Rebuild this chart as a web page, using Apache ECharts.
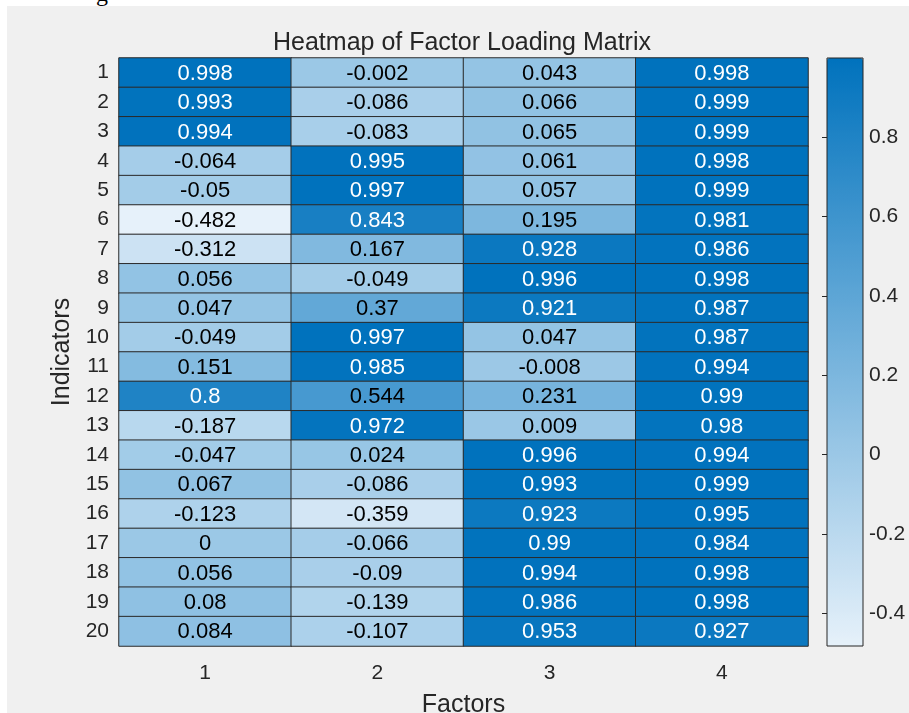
<!DOCTYPE html>
<html>
<head>
<meta charset="utf-8">
<script src="https://cdn.jsdelivr.net/npm/echarts@6/dist/echarts.min.js"></script>
<style>
html,body{margin:0;padding:0;background:#ffffff;width:909px;height:713px;overflow:hidden;position:relative;}
#frag{position:absolute;left:96px;top:-19px;font-family:'Liberation Serif',serif;font-size:24px;color:#000;line-height:24px;}
#chart{position:absolute;left:7px;top:6px;width:902px;height:707px;background:#f0f0f0;}
</style>
</head>
<body>
<div id="frag">g</div>
<div id="chart"></div>
<script>
// ---- data ----
var factors = ['1', '2', '3', '4'];
var indicators = ['1','2','3','4','5','6','7','8','9','10','11','12','13','14','15','16','17','18','19','20'];
var factor1 = [0.998, 0.993, 0.994, -0.064, -0.05, -0.482, -0.312, 0.056, 0.047, -0.049, 0.151, 0.8, -0.187, -0.047, 0.067, -0.123, 0, 0.056, 0.08, 0.084];
var factor2 = [-0.002, -0.086, -0.083, 0.995, 0.997, 0.843, 0.167, -0.049, 0.37, 0.997, 0.985, 0.544, 0.972, 0.024, -0.086, -0.359, -0.066, -0.09, -0.139, -0.107];
var factor3 = [0.043, 0.066, 0.065, 0.061, 0.057, 0.195, 0.928, 0.996, 0.921, 0.047, -0.008, 0.231, 0.009, 0.996, 0.993, 0.923, 0.99, 0.994, 0.986, 0.953];
var factor4 = [0.998, 0.999, 0.999, 0.998, 0.999, 0.981, 0.986, 0.998, 0.987, 0.987, 0.994, 0.99, 0.98, 0.994, 0.999, 0.995, 0.984, 0.998, 0.998, 0.927];
var colorbarTicks = [-0.4, -0.2, 0, 0.2, 0.4, 0.6, 0.8];

var columns = [factor1, factor2, factor3, factor4];
var all = [].concat(factor1, factor2, factor3, factor4);
var vmin = Math.min.apply(null, all);
var vmax = Math.max.apply(null, all);

var data = [];
columns.forEach(function (col, ci) {
  col.forEach(function (v, ri) {
    data.push({
      value: [ci, ri, v],
      label: { color: v > 0.7 ? '#ffffff' : '#000000' }
    });
  });
});

var FONT = "'Liberation Sans', Arial, Helvetica, sans-serif";
var TXT = '#262626';

var chart = echarts.init(document.getElementById('chart'), null, { renderer: 'canvas' });
chart.setOption({
  backgroundColor: '#f0f0f0',
  animation: false,
  textStyle: { fontFamily: FONT },
  title: {
    text: 'Heatmap of Factor Loading Matrix',
    left: 266, top: 25, padding: 0,
    textStyle: { fontFamily: FONT, fontSize: 25, fontWeight: 'normal', color: TXT }
  },
  grid: [
    { left: 112, top: 52, width: 689, height: 588, containLabel: false, outerBoundsMode: 'none' },
    { left: 820, top: 52, width: 36, height: 588, show: true, borderColor: '#262626', borderWidth: 1, backgroundColor: 'transparent', z: 10, outerBoundsMode: 'none' }
  ],
  xAxis: [
    {
      type: 'category', gridIndex: 0, data: factors,
      axisLine: { show: false }, axisTick: { show: false }, splitLine: { show: false },
      axisLabel: { fontFamily: FONT, fontSize: 21, color: TXT, margin: 17 },
      name: 'Factors', nameLocation: 'middle', nameGap: 47,
      nameTextStyle: { fontFamily: FONT, fontSize: 25, color: TXT }
    },
    { type: 'value', gridIndex: 1, show: false, min: 0, max: 1 }
  ],
  yAxis: [
    {
      type: 'category', gridIndex: 0, data: indicators, inverse: true,
      axisLine: { show: false }, axisTick: { show: false }, splitLine: { show: false },
      axisLabel: { fontFamily: FONT, fontSize: 21, color: TXT, margin: 10 },
      name: 'Indicators', nameLocation: 'middle', nameGap: 44, nameRotate: 90,
      nameTextStyle: { fontFamily: FONT, fontSize: 25, color: TXT }
    },
    {
      type: 'value', gridIndex: 1, position: 'right', min: vmin, max: vmax, z: 10,
      axisLine: { show: false },
      splitLine: { show: false },
      axisTick: { show: true, inside: true, length: 5, lineStyle: { color: '#262626' }, customValues: colorbarTicks },
      axisLabel: { fontFamily: FONT, fontSize: 21, color: TXT, margin: 6, customValues: colorbarTicks,
        formatter: function (v) { return String(Math.round(v * 10) / 10); } }
    }
  ],
  visualMap: {
    type: 'continuous', min: vmin, max: vmax, calculable: false, show: true,
    orient: 'vertical', left: 820, top: 52, itemWidth: 36, itemHeight: 588, padding: 0,
    text: null, showLabel: false, hoverLink: false, seriesIndex: 0,
    inRange: { color: ['#e6f1fa', '#0072bd'] }
  },
  series: [{
    type: 'heatmap', xAxisIndex: 0, yAxisIndex: 0, data: data,
    itemStyle: { borderColor: '#2b2b2b', borderWidth: 1 },
    label: { show: true, fontFamily: FONT, fontSize: 22, offset: [0, 1], formatter: function (p) { return String(p.value[2]); } },
    emphasis: { disabled: true }
  }]
});
</script>
</body>
</html>
